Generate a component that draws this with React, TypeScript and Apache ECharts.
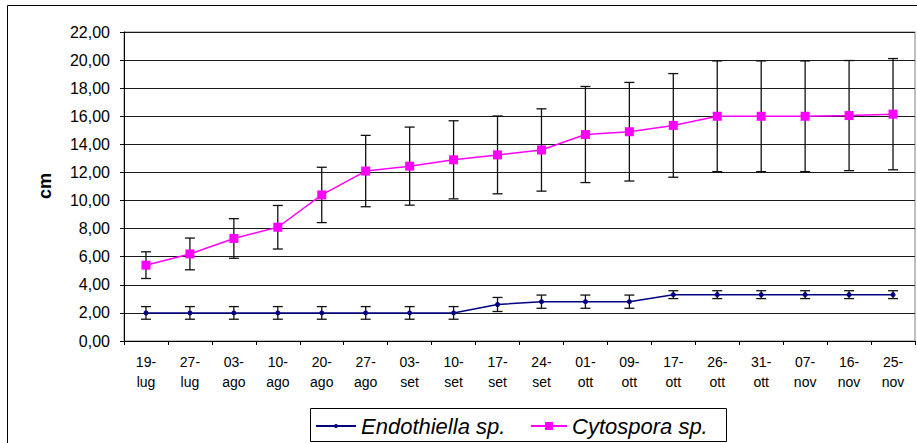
import React, { useEffect, useRef } from "react";
import * as echarts from "echarts";

const categories = [
  "19-lug", "27-lug", "03-ago", "10-ago", "20-ago", "27-ago", "03-set", "10-set", "17-set",
  "24-set", "01-ott", "09-ott", "17-ott", "26-ott", "31-ott", "07-nov", "16-nov", "25-nov",
];
const endothiella = [2.0, 2.0, 2.0, 2.0, 2.0, 2.0, 2.0, 2.0, 2.6, 2.8, 2.8, 2.8, 3.3, 3.3, 3.3, 3.3, 3.3, 3.3];
const endothiellaSd = [0.45, 0.45, 0.45, 0.45, 0.45, 0.45, 0.45, 0.45, 0.5, 0.47, 0.47, 0.47, 0.28, 0.28, 0.28, 0.28, 0.28, 0.28];
const cytospora = [5.4, 6.2, 7.3, 8.1, 10.4, 12.1, 12.45, 12.9, 13.25, 13.6, 14.7, 14.9, 15.35, 16.0, 16.0, 16.0, 16.05, 16.15];
const cytosporaSd = [0.95, 1.13, 1.41, 1.55, 1.97, 2.54, 2.78, 2.78, 2.77, 2.93, 3.42, 3.51, 3.69, 3.94, 3.94, 3.94, 3.92, 3.96];
const yTicks = { min: 0, max: 22, interval: 2 };
const seriesNames = ["Endothiella sp.", "Cytospora sp."];

const FONT = "'Liberation Sans', Arial, sans-serif";

function errData(vals: number[], sd: number[]) {
  return vals.map((v, i) => [i, v - sd[i], v + sd[i]]);
}

function errorSeries(vals: number[], sd: number[]) {
  return {
    type: "custom",
    silent: true,
    z: 1,
    data: errData(vals, sd),
    encode: { x: 0, y: [1, 2] },
    renderItem: (params: any, api: any) => {
      const x = api.value(0);
      const lo = api.value(1);
      const hi = api.value(2);
      const p1 = api.coord([x, hi]);
      const p2 = api.coord([x, lo]);
      const hw = 5;
      const st = { stroke: "#111", lineWidth: 1.3 };
      return {
        type: "group",
        children: [
          { type: "line", shape: { x1: p1[0], y1: p1[1], x2: p2[0], y2: p2[1] }, style: st },
          { type: "line", shape: { x1: p1[0] - hw, y1: p1[1], x2: p1[0] + hw, y2: p1[1] }, style: st },
          { type: "line", shape: { x1: p2[0] - hw, y1: p2[1], x2: p2[0] + hw, y2: p2[1] }, style: st },
        ],
      };
    },
  };
}

export default function App() {
  const ref = useRef<HTMLDivElement>(null);
  useEffect(() => {
    if (!ref.current) return;
    const chart = echarts.init(ref.current, null, { renderer: "svg" });
    chart.setOption({
      animation: false,
      backgroundColor: "#fff",
      grid: {
        left: 124,
        top: 32,
        right: 2,
        bottom: 102,
        show: true,
        borderColor: "#808080",
        borderWidth: 1,
      },
      xAxis: {
        type: "category",
        data: categories,
        boundaryGap: true,
        axisLine: { lineStyle: { color: "#000", width: 1 } },
        axisTick: { show: true, length: 4, lineStyle: { color: "#000" } },
        axisLabel: {
          interval: 0,
          margin: 11,
          fontSize: 14,
          lineHeight: 20,
          color: "#000",
          fontFamily: FONT,
          formatter: (v: string) => v.replace("-", "-\n"),
        },
        splitLine: { show: false },
      },
      yAxis: {
        type: "value",
        min: yTicks.min,
        max: yTicks.max,
        interval: yTicks.interval,
        axisLine: { show: true, lineStyle: { color: "#000", width: 1 } },
        axisTick: { show: true, length: 4, lineStyle: { color: "#000" } },
        axisLabel: {
          margin: 14,
          fontSize: 16,
          color: "#000",
          fontFamily: FONT,
          formatter: (v: number) => v.toFixed(2).replace(".", ","),
        },
        splitLine: { show: true, lineStyle: { color: "#1a1a1a", width: 1 } },
      },
      legend: [
        {
          data: [seriesNames[0]],
          left: 315,
          top: 415,
          padding: 0,
          itemWidth: 40,
          itemHeight: 5,
          textStyle: { fontSize: 22, fontStyle: "italic", color: "#000", fontFamily: FONT },
        },
        {
          data: [seriesNames[1]],
          left: 530,
          top: 415,
          padding: 0,
          itemWidth: 36,
          itemHeight: 10,
          textStyle: { fontSize: 22, fontStyle: "italic", color: "#000", fontFamily: FONT },
        },
      ],
      graphic: [
        {
          type: "rect",
          shape: { x: 7.5, y: 5.5, width: 940, height: 460 },
          style: { fill: "none", stroke: "#000", lineWidth: 1 },
          silent: true,
        },
        {
          type: "rect",
          shape: { x: 310.5, y: 408.5, width: 416, height: 33 },
          style: { fill: "none", stroke: "#000", lineWidth: 1 },
          silent: true,
        },
        {
          type: "text",
          x: 45,
          y: 186,
          rotation: Math.PI / 2,
          style: {
            text: "cm",
            align: "center",
            verticalAlign: "middle",
            font: `bold 18px ${FONT}`,
            fill: "#000",
          },
          silent: true,
        },
      ],
      series: [
        errorSeries(endothiella, endothiellaSd),
        errorSeries(cytospora, cytosporaSd),
        {
          name: seriesNames[0],
          type: "line",
          data: endothiella,
          z: 3,
          symbol: "circle",
          symbolSize: 5,
          color: "#000080",
          lineStyle: { color: "#000080", width: 1.5 },
          itemStyle: { color: "#000080" },
        },
        {
          name: seriesNames[1],
          type: "line",
          data: cytospora,
          z: 3,
          symbol: "rect",
          symbolSize: 9,
          color: "#ff00ff",
          lineStyle: { color: "#ff00ff", width: 1.5 },
          itemStyle: { color: "#ff00ff" },
        },
      ],
    });
    return () => chart.dispose();
  }, []);
  return (
    <div
      ref={ref}
      style={{ position: "fixed", left: 0, top: 0, width: 917, height: 443 }}
    />
  );
}
